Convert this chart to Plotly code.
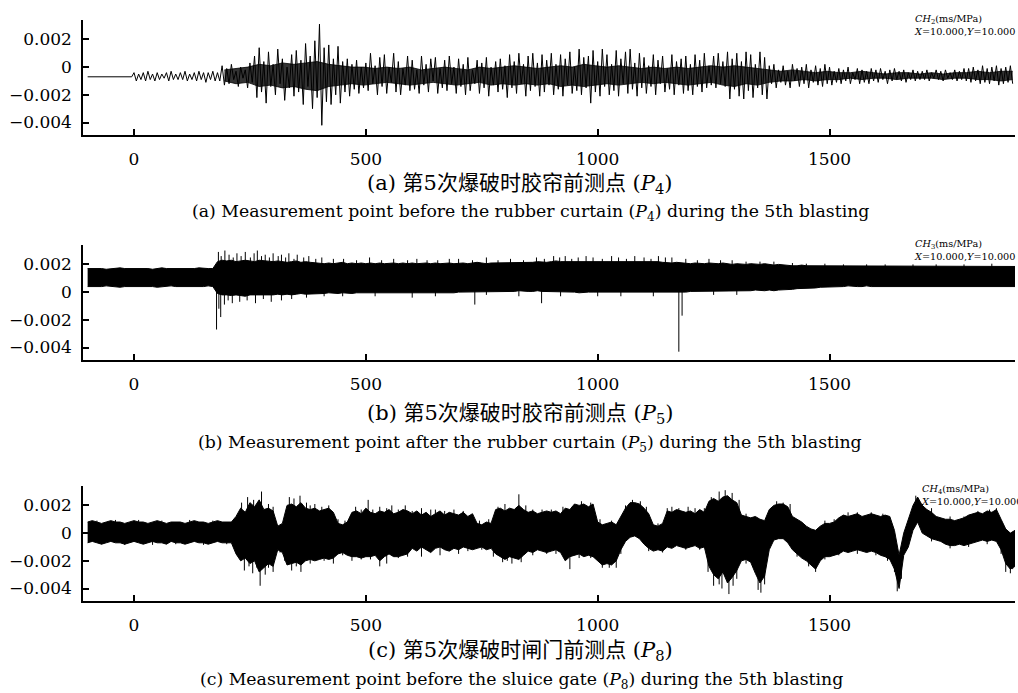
import numpy as np
import plotly.graph_objects as go

# ---------------- tick labels ----------------
x_tick_vals = [0, 500, 1000, 1500]
x_tick_text = ["0", "500", "1000", "1500"]
y_tick_vals = [0.002, 0, -0.002, -0.004]
y_tick_text = ["0.002", "0", "\u22120.002", "\u22120.004"]

# ---------------- panel (a): CH2, samples every 5 ms from -100 ms, unit 1e-4 ----------------
a_start_ms = -100
a_step_ms = 5
a_vals_e4 = [
    # -100
    -7,-7,-7,-7,-7,-7,-7,-7,-7,-7,-7,-7,-7,-7,-7,-7,-7,-7,-7,-7,
    # 0
    -4,-10,-5,-9,-4,-10,-3,-9,-5,-10,-4,-9,-5,-8,-4,-10,-3,-9,-5,-9,
    # 100
    -4,-9,-3,-10,-5,-9,-4,-10,-3,-9,-4,-11,-4,-9,-3,-10,-4,-10,1,-13,
    # 200
    -1,-12,2,-9,-3,-14,0,-8,-2,-15,3,-11,8,-22,14,-18,4,-26,11,-14,
    # 300
    2,-20,13,-12,6,-24,0,-15,9,-21,12,-18,5,-27,17,-14,8,-30,19,-22,
    # 400
    31,-42,14,-25,16,-27,6,-20,15,-26,4,-18,6,-21,2,-16,5,-19,0,-15,
    # 500
    3,-17,10,-12,1,-20,7,-14,9,-19,0,-11,10,-18,4,-20,-1,-13,8,-17,
    # 600
    5,-16,-2,-19,8,-13,2,-18,6,-10,7,-19,-1,-15,5,-17,8,-12,0,-19,
    # 700
    6,-14,2,-20,7,-17,-2,-12,5,-19,3,-15,7,-21,0,-13,4,-18,6,-16,
    # 800
    1,-22,9,-15,4,-19,10,-12,2,-21,8,-17,10,-14,3,-21,9,-18,5,-13,
    # 900
    10,-20,2,-16,9,-21,6,-13,11,-19,0,-17,13,-20,7,-15,8,-26,12,-18,
    # 1000
    4,-21,13,-14,9,-20,2,-17,12,-21,6,-12,11,-19,13,-16,3,-21,10,-15,
    # 1100
    7,-19,1,-14,9,-20,5,-12,8,-18,-1,-16,9,-20,4,-13,6,-19,8,-17,
    # 1200
    2,-20,9,-14,5,-18,10,-15,1,-13,8,-15,10,-12,4,-14,11,-23,6,-16,
    # 1300
    10,-21,4,-23,11,-17,9,-22,2,-15,11,-20,7,-23,1,-12,2,-15,-2,-11,
    # 1400
    1,-13,-3,-15,2,-10,-1,-14,0,-12,2,-15,-2,-11,1,-13,-1,-14,2,-12,
    # 1500
    0,-13,-3,-11,-1,-12,-2,-10,0,-12,-4,-9,-1,-12,-2,-11,-3,-12,-1,-10,
    # 1600
    -2,-11,-1,-9,-3,-12,-2,-10,-1,-9,-3,-10,-2,-11,-4,-9,-2,-10,-3,-9,
    # 1700
    -3,-9,-2,-10,-4,-8,-2,-9,-3,-10,-2,-8,-4,-9,-2,-10,-3,-9,-1,-10,
    # 1800
    -1,-11,0,-10,-2,-12,1,-11,-1,-12,0,-10,1,-13,-1,-12,0,-11,1,-12,
]
# dense core of trace (a), every 25 ms from 195 ms, unit 1e-4
a_core_start_ms = 195
a_core_step_ms = 25
a_core_upper_e4 = [-2,-1,0,2,1,3,2,3,4,2,1,0,0,-1,0,-1,0,-2,-1,0,
                   -1,-2,0,-1,0,1,0,-1,0,1,0,2,1,0,1,0,-1,0,-1,0,
                   -1,0,1,0,1,0,-1,-2,-3,-2,-3,-4,-3,-4,-4,-3,-4,-5,-4,-4,
                   -5,-4,-5,-4,-4,-3,-4,-3,-3]
a_core_lower_e4 = [-10,-12,-11,-14,-13,-15,-14,-16,-17,-14,-13,-12,-13,-12,-11,-12,-13,-12,-11,-12,
                   -13,-12,-11,-13,-12,-13,-12,-13,-12,-14,-13,-14,-13,-12,-13,-12,-11,-12,-11,-12,
                   -13,-12,-11,-13,-14,-12,-13,-11,-10,-10,-9,-10,-9,-9,-8,-9,-8,-8,-9,-8,
                   -8,-8,-9,-8,-8,-9,-9,-10,-9]

# ---------------- panel (b): CH3 band envelope every 10 ms from -100 ms, unit 1e-4 ----------------
b_start_ms = -100
b_step_ms = 10
b_upper_e4 = [
    17,17,17.5,17,16.5,17,17,17.5,17,17,              # -100
    17,17.5,17,17,16.5,17,17.5,17,17,17,              # 0
    17,17,16.5,17,17.5,17,17,17,22,23,                # 100
    22.5,23,22,22.5,23,22.5,22,23,22.5,22,            # 200
    22,22.5,22,21.5,22,22.5,21.5,22,21.5,21,          # 300
    21,20.5,21,20.5,21,21.5,20.5,21,20.5,21,          # 400
    20.5,21,20.5,21,20.5,21,21,20.5,21,20.5,          # 500
    21,20.5,21,21,20.5,21,20.5,21,21,20.5,            # 600
    21,21,20.5,21,21.5,21,20.5,21,21,21,              # 700
    21,21.5,21,21,21.5,21,21.5,22,21.5,21.5,          # 800
    22,22.5,22,22,22.5,22,22.5,22,22,22.5,            # 900
    22,22.5,22,22,22.5,22,22,22.5,22,22,              # 1000
    22,22.5,22,22,21.5,21,21,21.5,21,21,              # 1100
    20.5,21,20.5,20.5,21,20.5,20.5,21,20.5,20,        # 1200
    20.5,20,20,20.5,20,20,20.5,20,19.5,20,            # 1300
    19.5,19.5,19,19,19.5,19,19,18.5,19,19,            # 1400
    19,18.5,19,19,18.5,19,18.5,19,18.5,18.5,          # 1500
    18.5,18.5,19,18.5,18.5,18.5,19,18.5,18.5,18.5,    # 1600
    18.5,18.5,18.5,19,18.5,18.5,18.5,18.5,19,18.5,    # 1700
    18.5,18.5,18.5,18.5,19,18.5,18.5,18.5,18.5,18.5,  # 1800
    18.5,                                             # 1900
]
b_lower_e4 = [
    4,4,3.5,4,4.5,4,4,3.5,4,4,                        # -100
    4,4,4.5,4,4,3.5,4,4,4.5,4,                        # 0
    4,4,4,3.5,4,4,4.5,4,-1,-2,                        # 100
    -2,-2.5,-2,-2.5,-3,-2,-2,-2.5,-2,-2.5,            # 200
    -2,-1.5,-2,-1.5,-2,-1.5,-1,-1.5,-1.5,-1,          # 300
    -1,-1,-0.5,-1,-1,-0.5,-1,-1,-0.5,-0.5,            # 400
    -0.5,-0.5,-1,-0.5,-0.5,-1,-0.5,-0.5,-1,-0.5,      # 500
    -0.5,-0.5,-1,-0.5,-0.5,-0.5,-1,-0.5,-0.5,-0.5,    # 600
    0,0,0.5,0,0,0,0.5,0,0.5,0,                        # 700
    0.5,0.5,0.5,1,0.5,0.5,0.5,1,0.5,0.5,              # 800
    0,0,0,0.5,0,0,-0.5,0,0,0,                         # 900
    0,0,-0.5,0,0,-0.5,0,0,-0.5,0,                     # 1000
    0,0,-0.5,0,0,0,0,-0.5,-0.5,0,                     # 1100
    0.5,0.5,1,1,1,0.5,1,1,1,0.5,                      # 1200
    1,1,1,1,1.5,1,1,1.5,1,1.5,                        # 1300
    1.5,2,2,2.5,2.5,3,3,3,3.5,3.5,                    # 1400
    3.5,4,4,4,4.5,4,4,4,4.5,4,                        # 1500
    4,4.5,4,4,4,4.5,4,4,4,4,                          # 1600
    4.5,4,4,4.5,4,4,4,4.5,4,4,                        # 1700
    4,4,4.5,4,4,4,4.5,4,4,4,                          # 1800
    4,                                                # 1900
]
# thin spikes of (b): time (ms) and tip (unit 1e-4), all rising from the band interior
b_up_spike_ms = [182, 188, 196, 205, 214, 222, 231, 240, 251, 259,
                 266, 275, 283, 292, 300, 311, 318, 327, 334, 345,
                 352, 366, 377, 392, 405, 430, 452, 480, 508, 534,
                 560, 590, 610, 632, 655, 680, 700, 730, 760, 785,
                 812, 840, 868, 885, 905, 918, 930, 944, 958, 975,
                 990, 1010, 1030, 1045, 1062, 1080, 1100, 1115, 1131, 1146,
                 1160, 1190, 1215, 1240, 1265, 1290, 1320, 1350, 1380, 1420,
                 1450, 1490, 1530, 1580, 1620, 1680, 1730, 1790, 1850]
b_up_spike_tip_e4 = [29, 26, 30, 27, 25, 28, 26, 29, 25, 28,
                     30, 26, 27, 25, 28, 26, 27, 25, 28, 24,
                     27, 25, 26, 24, 25, 24, 24, 23, 25, 23,
                     24, 23, 24, 23, 23, 24, 24, 23, 25, 23,
                     24, 23, 25, 24, 26, 25, 26, 24, 25, 26,
                     25, 24, 26, 25, 24, 26, 25, 24, 26, 25,
                     25, 24, 23, 24, 23, 23, 22, 22, 22, 21,
                     20.5, 20.5, 20, 20, 20, 20, 20, 20, 20.5]
b_down_spike_ms = [178, 183, 187, 195, 203, 212, 228, 244, 262, 279,
                   296, 318, 340, 372, 410, 450, 520, 600, 650, 735,
                   760, 830, 879, 920, 1000, 1050, 1120, 1175, 1182, 1250, 1300]
b_down_spike_tip_e4 = [-27, -12, -18, -9, -6, -8, -7, -6, -8, -5,
                       -7, -6, -5, -4, -3, -3, -3, -4, -3, -9,
                       -2, -3, -8, -3, -3, -3, -3, -43, -17, -2, -2]
b_spike_base_e4 = 10

# ---------------- panel (c): CH4 band envelope every 10 ms from -100 ms, unit 1e-4 ----------------
c_start_ms = -100
c_step_ms = 10
c_upper_e4 = [
    8,9,8,7,8,9,8,8,7,8,             # -100
    9,8,8,7,8,9,8,7,8,8,             # 0
    8,7,8,9,8,8,7,8,9,8,             # 100
    8,8,12,18,15,22,19,24,17,18,     # 200
    16,5,7,20,21,19,22,18,17,18,     # 300
    16,17,18,15,7,6,8,15,16,14,      # 400
    18,15,14,16,15,17,14,15,17,16,   # 500
    14,16,13,15,12,14,16,13,15,14,   # 600
    13,15,12,14,7,6,8,7,17,18,       # 700
    16,18,17,20,17,15,16,14,15,16,   # 800
    15,16,14,18,17,21,20,21,19,21,   # 900
    8,6,7,8,6,12,18,22,22,21,        # 1000
    18,14,6,5,7,16,15,17,16,15,      # 1100
    16,14,17,15,23,25,23,26,27,24,   # 1200
    22,13,12,11,12,10,9,17,20,21,    # 1300
    21,19,12,10,8,5,3,2,5,7,         # 1400
    7,8,11,13,12,13,14,12,13,14,     # 1500
    13,12,13,12,2,-16,0,10,20,26,    # 1600
    20,17,15,12,11,10,10,9,10,11,    # 1700
    13,14,15,14,16,15,17,10,3,0,     # 1800
    2,                               # 1900
]
c_lower_e4 = [
    -7,-6,-7,-8,-7,-6,-7,-7,-8,-7,        # -100
    -6,-7,-8,-7,-6,-7,-7,-8,-6,-7,        # 0
    -7,-8,-7,-6,-7,-7,-8,-7,-6,-7,        # 100
    -7,-7,-15,-20,-18,-22,-20,-28,-25,-22,# 200
    -24,-12,-14,-23,-22,-21,-23,-20,-19,-20, # 300
    -19,-18,-19,-18,-15,-14,-16,-17,-17,-18, # 400
    -17,-17,-16,-20,-17,-15,-17,-17,-16,-15, # 500
    -11,-13,-10,-12,-14,-11,-10,-12,-13,-11, # 600
    -12,-10,-11,-12,-11,-10,-12,-11,-15,-17, # 700
    -19,-17,-18,-19,-16,-13,-14,-12,-13,-14, # 800
    -13,-12,-14,-20,-17,-16,-15,-17,-16,-17, # 900
    -20,-23,-22,-23,-20,-12,-6,-3,-2,-4,     # 1000
    -8,-11,-13,-12,-13,-10,-11,-9,-10,-11,   # 1100
    -10,-9,-11,-10,-24,-30,-33,-28,-36,-32,  # 1200
    -27,-20,-19,-21,-29,-36,-31,-12,-5,-4,   # 1300
    -4,-7,-12,-15,-18,-20,-23,-26,-20,-17,   # 1400
    -17,-16,-15,-13,-14,-13,-12,-13,-14,-13, # 1500
    -14,-16,-17,-19,-26,-40,-16,-10,2,8,     # 1600
    0,-2,-4,-5,-6,-8,-9,-9,-8,-9,            # 1700
    -8,-7,-6,-5,-6,-5,-6,-12,-22,-26,        # 1800
    -24,                                     # 1900
]
# thin spikes of (c): time (ms), start level, tip (unit 1e-4)
c_up_spike_ms = [232, 245, 258, 275, 290, 335, 345, 358, 372, 390,
                 420, 478, 505, 530, 556, 585, 620, 650, 690, 800,
                 830, 845, 925, 965, 985, 1075, 1092, 1160, 1195, 1262,
                 1275, 1290, 1386, 1540, 1686, 1860,
                 -80, -40, 10, 60, 120, 170,
                 300, 380, 405, 440, 455, 490, 515, 545, 570, 600,
                 640, 670, 710, 745, 765, 785, 860, 880, 900, 945,
                 1005, 1030, 1060, 1105, 1130, 1150, 1175, 1210, 1230, 1245,
                 1305, 1320, 1400, 1415, 1490, 1510, 1560, 1590, 1615, 1700,
                 1720, 1760, 1790, 1820, 1845]
c_up_spike_base_e4 = [0, 0, 0, 0, 0, 0, 0, 0, 0, 0,
                      0, 0, 0, 0, 0, 0, 0, 0, 0, 0,
                      0, 0, 0, 0, 0, 5, 5, 0, 0, -5,
                      -5, -5, 5, 0, 15, 5,
                      0, 0, 0, 0, 0, 0,
                      0, 0, 0, 0, 0, 0, 0, 0, 0, 0,
                      0, 0, 0, 0, 0, 0, 0, 0, 0, 0,
                      0, 0, 0, 0, 0, 0, 0, 0, 0, -5,
                      0, 0, 5, 5, 0, 0, 0, 0, 0, 5,
                      5, 0, 0, 0, 0]
c_up_spike_tip_e4 = [22, 26, 24, 30, 21, 26, 25, 27, 22, 21,
                     20, 19, 24, 19, 20, 20, 18, 17, 17, 21,
                     28, 20, 19, 23, 22, 24, 23, 19, 19, 30,
                     31, 29, 23, 15, 27, 18,
                     9, 9.5, 9.5, 9, 9.5, 9,
                     19, 20, 19, 10, 9, 17, 17, 18, 17, 16,
                     17, 16, 16, 9, 10, 19, 17, 17, 17, 19,
                     10, 9, 20, 19, 7, 18, 18, 18, 18, 26,
                     24, 14, 22, 21, 9, 10, 15, 15, 14, 21,
                     18, 12, 12, 16, 17]
c_down_spike_ms = [238, 256, 272, 283, 300, 340, 360, 430, 470, 530,
                   545, 620, 660, 700, 795, 815, 940, 1010, 1040, 1250,
                   1268, 1283, 1300, 1346, 1352, 1470, 1646, 1880, 1895,
                   -70, -20, 40, 90, 150, 200,
                   248, 265, 290, 315, 325, 350, 380, 410, 450, 490,
                   510, 570, 590, 640, 680, 720, 750, 775, 805, 835,
                   860, 890, 910, 960, 985, 1025, 1050, 1110, 1140, 1190,
                   1220, 1238, 1262, 1292, 1320, 1336, 1360, 1430, 1455, 1490,
                   1520, 1560, 1600, 1625, 1640, 1655, 1720, 1760, 1800, 1840,
                   1870, 1890]
c_down_spike_base_e4 = [0, 0, 0, 0, 0, 0, 0, 0, 0, 0,
                        0, 0, 0, 0, 0, 0, 0, -5, -5, -5,
                        -5, -5, -5, -10, -10, -10, -25, -10, -10,
                        0, 0, 0, 0, 0, 0,
                        0, 0, 0, 0, 0, 0, 0, 0, 0, 0,
                        0, 0, 0, 0, 0, 0, 0, 0, 0, 0,
                        0, 0, 0, 0, 0, -5, -5, 0, 0, 0,
                        0, -5, -5, -5, -5, -5, -10, -5, -10, -5,
                        -5, -5, -5, -5, -10, -20, -2, -2, -2, -2,
                        -5, -10]
c_down_spike_tip_e4 = [-27, -29, -38, -30, -28, -27, -28, -22, -20, -24,
                       -22, -17, -16, -15, -21, -22, -26, -25, -25, -38,
                       -40, -44, -33, -41, -43, -28, -42, -28, -26,
                       -8, -8.5, -8.5, -8, -8.5, -8,
                       -24, -25, -25, -14, -20, -24, -22, -20, -16, -19,
                       -19, -18, -17, -13, -13, -13, -12, -17, -20, -21,
                       -16, -15, -15, -18, -18, -25, -15, -13, -14, -12,
                       -12, -28, -37, -38, -22, -24, -37, -17, -24, -19,
                       -16, -15, -16, -20, -28, -33, -6, -11, -10, -8,
                       -15, -29]

# ---------------- texts ----------------
channel_names = ["2", "3", "4"]
scale_text = "<i>X</i>=10.000,<i>Y</i>=10.000"
captions_cn = [
    "(a) 第5次爆破时胶帘前测点 (<i>P</i><sub>4</sub>)",
    "(b) 第5次爆破时胶帘前测点 (<i>P</i><sub>5</sub>)",
    "(c) 第5次爆破时闸门前测点 (<i>P</i><sub>8</sub>)",
]
captions_en = [
    "(a) Measurement point before the rubber curtain (<i>P</i><sub>4</sub>) during the 5th blasting",
    "(b) Measurement point after the rubber curtain (<i>P</i><sub>5</sub>) during the 5th blasting",
    "(c) Measurement point before the sluice gate (<i>P</i><sub>8</sub>) during the 5th blasting",
]

# ---------------- build ----------------
W, H = 1018, 693
E4 = 1e-4


def fx(px):
    return px / W


def fy(py):
    return 1 - py / H


fig = go.Figure()


def add_band(upper, lower, start, step, xa, ya, color="black"):
    up = np.array(upper) * E4
    lo = np.array(lower) * E4
    t = start + step * np.arange(len(up))
    fig.add_trace(go.Scatter(x=t, y=up, mode="lines", line=dict(color=color, width=1),
                             xaxis=xa, yaxis=ya, hoverinfo="skip", showlegend=False))
    fig.add_trace(go.Scatter(x=t, y=lo, mode="lines", line=dict(color=color, width=1),
                             fill="tonexty", fillcolor=color,
                             xaxis=xa, yaxis=ya, hoverinfo="skip", showlegend=False))


def add_spikes(times, bases, tips, xa, ya):
    sx, sy = [], []
    for t, b, v in zip(times, bases, tips):
        sx += [t, t, None]
        sy += [b * E4, v * E4, None]
    fig.add_trace(go.Scatter(x=sx, y=sy, mode="lines", line=dict(color="black", width=1),
                             xaxis=xa, yaxis=ya, hoverinfo="skip", showlegend=False))


# (a)
add_band(a_core_upper_e4, a_core_lower_e4, a_core_start_ms, a_core_step_ms, "x", "y",
         color="rgba(0,0,0,0.8)")
a_y = np.array(a_vals_e4) * E4
a_t = a_start_ms + a_step_ms * np.arange(len(a_y))
fig.add_trace(go.Scatter(x=a_t, y=a_y, mode="lines", line=dict(color="black", width=1),
                         xaxis="x", yaxis="y", hoverinfo="skip", showlegend=False))

# (b)
add_band(b_upper_e4, b_lower_e4, b_start_ms, b_step_ms, "x2", "y2")
add_spikes(b_up_spike_ms, [b_spike_base_e4] * len(b_up_spike_ms), b_up_spike_tip_e4, "x2", "y2")
add_spikes(b_down_spike_ms, [b_spike_base_e4] * len(b_down_spike_ms), b_down_spike_tip_e4, "x2", "y2")

# (c)
add_band(c_upper_e4, c_lower_e4, c_start_ms, c_step_ms, "x3", "y3")
add_spikes(c_up_spike_ms, c_up_spike_base_e4, c_up_spike_tip_e4, "x3", "y3")
add_spikes(c_down_spike_ms, c_down_spike_base_e4, c_down_spike_tip_e4, "x3", "y3")

tick_font = dict(family="DejaVu Serif", size=17, color="black")
x_dom = [fx(83), fx(1015)]
y_doms = [[fy(135), fy(20)], [fy(360), fy(245)], [fy(601), fy(486)]]

layout = dict(
    width=W, height=H, margin=dict(l=0, r=0, t=0, b=0),
    paper_bgcolor="white", plot_bgcolor="white", showlegend=False,
)
for i in range(3):
    sfx = "" if i == 0 else str(i + 1)
    layout["xaxis" + sfx] = dict(
        domain=x_dom, anchor="y" + sfx, range=[-110, 1900],
        showline=True, linecolor="black", linewidth=1.5,
        ticks="inside", ticklen=6, tickwidth=1.5, tickcolor="black",
        tickvals=x_tick_vals, ticktext=x_tick_text, tickfont=tick_font,
        ticklabelstandoff=8, showgrid=False, zeroline=False, fixedrange=True,
    )
    layout["yaxis" + sfx] = dict(
        domain=y_doms[i], anchor="x" + sfx, range=[-0.0049, 0.0034],
        showline=True, linecolor="black", linewidth=1.5,
        ticks="inside", ticklen=6, tickwidth=1.5, tickcolor="black",
        tickvals=y_tick_vals, ticktext=y_tick_text, tickfont=tick_font,
        ticklabelstandoff=6, showgrid=False, zeroline=False, fixedrange=True,
    )
fig.update_layout(**layout)

cn_font = dict(family="DejaVu Serif, Noto Sans CJK SC", size=21, color="black")
en_font = dict(family="DejaVu Serif", size=17.3, color="black")
small_font = dict(family="DejaVu Serif", size=9.7, color="black")
cn_y = [184, 414, 651]
en_y = [212, 443, 680]
en_x = [530, 530, 521]
ch_y = [25, 250, 495]
ch_x = [912, 912, 919]
for i in range(3):
    fig.add_annotation(x=fx(520), y=fy(cn_y[i]), xref="paper", yref="paper", text=captions_cn[i],
                       showarrow=False, xanchor="center", yanchor="middle", font=cn_font)
    fig.add_annotation(x=fx(en_x[i]), y=fy(en_y[i]), xref="paper", yref="paper", text=captions_en[i],
                       showarrow=False, xanchor="center", yanchor="middle", font=en_font)
    fig.add_annotation(x=fx(ch_x[i]), y=fy(ch_y[i]), xref="paper", yref="paper",
                       text="<i>CH</i><sub>" + channel_names[i] + "</sub>(ms/MPa)<br>" + scale_text,
                       showarrow=False, xanchor="left", yanchor="middle", align="left",
                       font=small_font)

fig.write_html("out.html", config={"displayModeBar": False},
               post_script="document.body.style.margin='0px';")
